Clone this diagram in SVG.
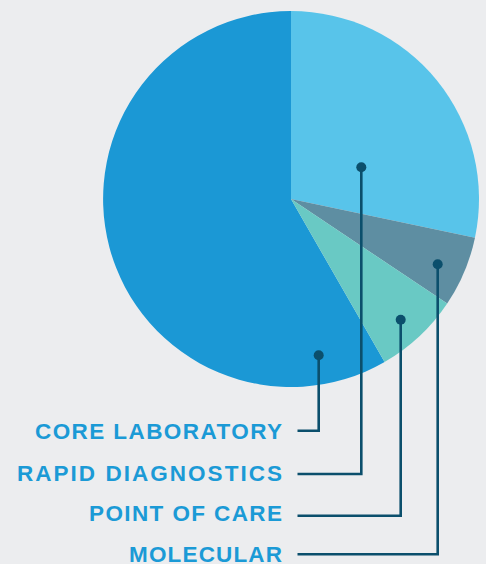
<svg xmlns="http://www.w3.org/2000/svg" width="486" height="564" viewBox="0 0 486 564">
<style>
.lbl{font-family:"Liberation Sans",Arial,sans-serif;font-weight:bold;font-size:22.5px;fill:#1B9AD6;text-anchor:end}
.conn{fill:none;stroke:#0B4F6C;stroke-width:2.6}
.dot{fill:#0B4F6C}
</style>
<rect width="486" height="564" fill="#ECEDEF"/>
<g id="pie">
<path id="core-laboratory-slice" d="M291,199 L384.6,362.1 A188,188 0 1 1 291,11 Z" fill="#1B98D5"/>
<path id="rapid-diagnostics-slice" d="M291,199 L291,11 A188,188 0 0 1 474.97,237.7 Z" fill="#58C4EA"/>
<path id="molecular-slice" d="M291,199 L474.97,237.7 A188,188 0 0 1 447.2,303.6 Z" fill="#5E8EA2"/>
<path id="point-of-care-slice" d="M291,199 L447.2,303.6 A188,188 0 0 1 384.6,362.1 Z" fill="#69C9C4"/>
</g>
<g id="connectors">
<path class="conn" d="M318.7,355 V430.7 H297.5"/>
<path class="conn" d="M361.3,167 V474 H297.5"/>
<path class="conn" d="M400.7,320 V515.7 H297.5"/>
<path class="conn" d="M437.7,264.5 V554.3 H297.5"/>
<circle class="dot" cx="318.7" cy="355.3" r="5"/>
<circle class="dot" cx="361.3" cy="167.3" r="5"/>
<circle class="dot" cx="400.7" cy="319.7" r="5"/>
<circle class="dot" cx="437.7" cy="264.3" r="5"/>
</g>
<g id="core-laboratory"><text class="lbl" x="282" y="438.5" textLength="247" lengthAdjust="spacing">CORE LABORATORY</text></g>
<g id="rapid-diagnostics"><text class="lbl" x="282" y="481" textLength="265" lengthAdjust="spacing">RAPID DIAGNOSTICS</text></g>
<g id="point-of-care"><text class="lbl" x="282" y="521" textLength="193" lengthAdjust="spacing">POINT OF CARE</text></g>
<g id="molecular"><text class="lbl" x="282" y="562" textLength="153" lengthAdjust="spacing">MOLECULAR</text></g>
</svg>
